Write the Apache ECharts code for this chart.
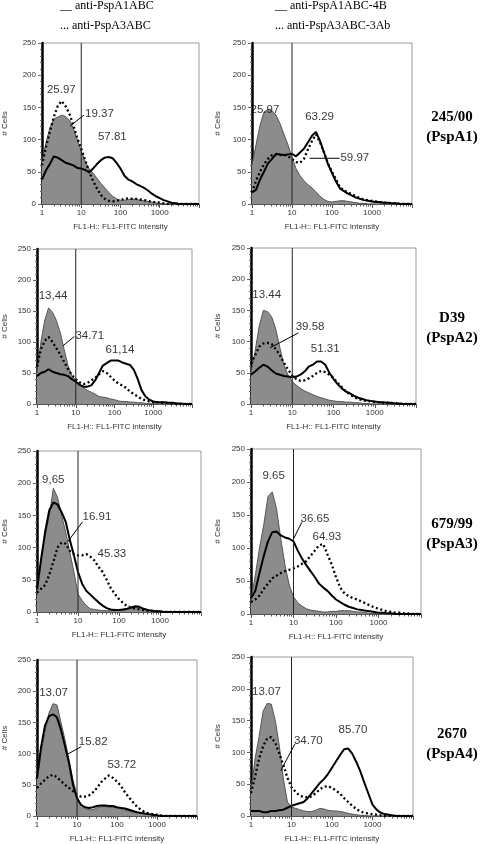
<!DOCTYPE html>
<html><head><meta charset="utf-8">
<script src="https://cdn.jsdelivr.net/npm/echarts@6/dist/echarts.min.js"></script>
<style>html,body{margin:0;padding:0;background:#fff}#c{width:480px;height:844px}</style>
</head><body><div id="c"></div>
<script>
// FL1 channel positions (1 .. 10^4, tenth-decade bins)
const channels = [1,1.259,1.585,1.995,2.512,3.162,3.981,5.012,6.31,7.943,10,12.59,15.85,19.95,25.12,31.62,39.81,50.12,63.1,79.43,100,125.9,158.5,199.5,251.2,316.2,398.1,501.2,631,794.3,1000,1259,1585,1995,2512,3162,3981,5012,6310,7943,10000];
const majorTicks = [1,10,100,1000,10000];
const tickLabels = [1,10,100,1000];
const minorTicks = [2,3,4,5,6,7,8,9,20,30,40,50,60,70,80,90,200,300,400,500,600,700,800,900,2000,3000,4000,5000,6000,7000,8000,9000];
const gateChannel = 10;
const yMax = 250;

// Panel 1: 245/00, anti-PspA1ABC (solid) / anti-PspA3ABC (dotted)
const p1Control = [65,95,118,132,135,138,136,130,117,100,82,66,55,48,40,32,25,18,12,8,6,6,7,8,7,6,5,4,3,2,1,0,0,0,0,0,0,0,0,0,0];
const p1Solid   = [38,52,62,74,72,68,64,62,60,56,55,53,49,55,62,68,72,73,71,64,55,44,38,35,31,28,25,21,16,12,9,6,4,2,1,0,0,0,0,0,0];
const p1Dotted  = [60,88,112,135,152,160,152,140,122,102,86,68,50,36,24,14,8,5,4,5,6,8,9,8,8,7,6,5,3,3,2,1,0,0,0,0,0,0,0,0,0];
// Panel 2: 245/00, anti-PspA1ABC-4B / anti-PspA3ABC-3Ab
const p2Control = [60,92,122,143,147,145,138,125,108,92,72,55,44,36,30,25,19,12,7,4,3,4,5,5,4,3,2,1,1,0,0,0,0,0,0,0,0,0,0,0,0];
const p2Solid   = [18,22,38,50,63,70,78,77,76,77,78,74,80,86,96,106,112,98,80,62,48,35,24,20,16,13,10,8,6,5,4,3,3,2,2,1,1,0,0,0,0];
const p2Dotted  = [18,36,50,62,70,76,77,76,76,74,70,65,64,70,85,98,108,96,80,63,50,38,26,21,18,15,12,9,7,6,5,4,3,2,2,1,1,0,0,0,0];
// Panel 3: D39 left
const p3Control = [50,100,135,155,148,135,115,88,62,46,38,32,26,22,19,16,12,11,10,8,7,5,4,4,3,3,2,2,1,1,1,0,0,0,0,0,0,0,0,0,0];
const p3Solid   = [45,50,52,56,52,50,48,47,45,40,36,31,28,28,30,38,50,62,66,70,70,70,67,65,63,55,40,22,12,7,4,3,3,3,2,2,1,1,0,0,0];
const p3Dotted  = [60,88,102,108,100,90,80,68,56,47,40,35,32,34,38,42,48,53,50,44,38,33,30,26,20,16,12,8,6,4,3,3,2,2,1,1,0,0,0,0,0];
// Panel 4: D39 right
const p4Control = [50,85,125,150,148,140,120,90,62,46,36,30,25,21,18,15,12,10,8,6,5,4,4,3,3,2,2,1,1,0,0,0,0,0,0,0,0,0,0,0,0];
const p4Solid   = [47,52,58,63,60,54,49,47,45,44,43,44,47,52,60,63,68,68,63,50,40,32,25,20,17,13,10,8,6,5,4,3,3,2,2,1,1,0,0,0,0];
const p4Dotted  = [65,78,92,97,98,96,88,78,66,55,46,40,37,38,41,45,50,53,51,47,42,34,27,20,15,11,8,6,5,4,3,3,2,2,1,1,0,0,0,0,0];
// Panel 5: 679/99 left
const p5Control = [25,80,118,150,192,178,150,124,93,62,28,18,10,5,4,3,2,2,2,2,3,3,4,6,8,7,5,3,2,1,1,0,0,0,0,0,0,0,0,0,0];
const p5Solid   = [36,82,125,158,170,167,155,140,112,88,62,44,33,27,21,15,10,6,4,3,3,4,5,7,9,8,5,3,2,1,1,0,0,0,0,0,0,0,0,0,0];
const p5Dotted  = [30,36,42,58,78,100,108,106,95,90,88,88,90,86,80,70,62,50,37,28,20,14,9,7,5,4,3,2,2,1,0,0,0,0,0,0,0,0,0,0,0];
// Panel 6: 679/99 right
const p6Control = [20,58,100,135,178,185,160,114,74,44,26,17,12,8,6,5,4,3,3,4,4,5,5,5,4,3,3,2,1,1,0,0,0,0,0,0,0,0,0,0,0];
const p6Solid   = [24,35,62,88,110,124,125,119,116,114,110,96,84,74,65,56,46,40,35,28,22,18,14,11,9,7,6,5,4,3,2,2,1,1,0,0,0,0,0,0,0];
const p6Dotted  = [18,22,28,38,46,54,58,62,65,67,69,72,76,80,88,96,104,106,90,75,56,40,31,27,24,22,19,16,13,10,8,6,4,3,2,2,1,1,0,0,0];
// Panel 7: 2670 left
const p7Control = [60,100,135,165,180,178,150,122,90,58,32,18,12,10,10,13,15,15,14,14,13,12,9,8,6,5,4,3,2,1,1,0,0,0,0,0,0,0,0,0,0];
const p7Solid   = [60,110,145,160,163,158,138,112,85,50,28,18,14,13,14,16,17,17,16,16,14,13,12,10,8,6,5,4,3,2,1,0,0,0,0,0,0,0,0,0,0];
const p7Dotted  = [45,52,58,64,66,62,56,50,45,40,34,31,31,33,38,45,54,60,65,61,55,48,38,30,22,15,10,6,4,3,2,1,0,0,0,0,0,0,0,0,0];
// Panel 8: 2670 right
const p8Control = [40,90,125,165,177,176,150,110,58,22,14,12,10,8,7,7,9,12,11,9,8,8,7,6,4,3,2,1,1,0,0,0,0,0,0,0,0,0,0,0,0];
const p8Solid   = [8,8,8,6,6,8,8,9,10,13,16,18,20,22,28,36,44,52,58,66,76,86,96,105,106,98,85,70,52,35,18,10,5,3,2,1,0,0,0,0,0];
const p8Dotted  = [36,62,90,110,122,124,115,98,80,60,45,38,32,30,29,31,36,42,46,47,44,40,35,28,22,16,11,7,5,4,3,2,1,0,0,0,0,0,0,0,0];

// Percentage annotations [channel, count, text] and leader lines
const p1Notes = [[3.1,178,'25.97'],[29,140,'19.37'],[62,104,'57.81']];
const p2Notes = [[2.1,146,'25.97'],[49,135,'63.29'],[372,71,'59.97']];
const p3Notes = [[2.6,175,'13,44'],[23,110,'34.71'],[138,87,'61,14']];
const p4Notes = [[2.4,175,'13.44'],[27,123,'39.58'],[63,88,'51.31']];
const p5Notes = [[2.5,206,'9,65'],[29,148,'16.91'],[67,91,'45.33']];
const p6Notes = [[3.4,209,'9.65'],[32,144,'36.65'],[61,117,'64.93']];
const p7Notes = [[2.6,198,'13.07'],[25.5,119,'15.82'],[132,82,'53.72']];
const p8Notes = [[2.4,195,'13.07'],[26,118,'34.70'],[330,136,'85.70']];
const p1Leader = [[11.7,138],[5.2,121]];
const p2Leader = [[155,71],[27.5,71]];
const p3Leader = [[9.2,109],[4.7,94]];
const p4Leader = [[14.1,114],[2.9,90]];
const p5Leader = [[12.9,140],[5.6,109]];
const p6Leader = [[15.7,139],[10,114]];
const p7Leader = [[12.6,111],[5.4,98]];
const p8Leader = [[12.1,113],[5.4,71]];

const headerLeft = ['__ anti-PspA1ABC','... anti-PspA3ABC'];
const headerRight = ['__ anti-PspA1ABC-4B','... anti-PspA3ABC-3Ab'];
const strainNames = ['245/00','D39','679/99','2670'];
const pspaNames = ['(PspA1)','(PspA2)','(PspA3)','(PspA4)'];
const xAxisTitle = 'FL1-H:: FL1-FITC intensity';
const yAxisTitle = '# Cells';

// Layout
const gridRects = [[38,43,161,161],[252,43,160,161],[33,249,159,155],[251,248,165,156],[33,451,168,161],[251,449,170,165],[33,660,164,159],[251,657,162,159]];
const yNameGaps = [33,30,28,29,28,29,28,29];
const rowLabelY = [117,318,524,734];

const panels = [
  [p1Control,p1Solid,p1Dotted,p1Notes,p1Leader],
  [p2Control,p2Solid,p2Dotted,p2Notes,p2Leader],
  [p3Control,p3Solid,p3Dotted,p3Notes,p3Leader],
  [p4Control,p4Solid,p4Dotted,p4Notes,p4Leader],
  [p5Control,p5Solid,p5Dotted,p5Notes,p5Leader],
  [p6Control,p6Solid,p6Dotted,p6Notes,p6Leader],
  [p7Control,p7Solid,p7Dotted,p7Notes,p7Leader],
  [p8Control,p8Solid,p8Dotted,p8Notes,p8Leader]
];

const SANS = 'Liberation Sans, Arial, sans-serif';
const SERIF = 'Liberation Serif, Times New Roman, serif';
const pts = arr => channels.map((c,k)=>[c,arr[k]]);

const grids=[], xAxes=[], yAxes=[], series=[];
panels.forEach((p,i)=>{
  const r = gridRects[i];
  grids.push({left:r[0],top:r[1],width:r[2],height:r[3],show:true,borderColor:'#9a9a9a',borderWidth:1});
  xAxes.push({type:'log',logBase:10,min:1,max:10000,gridIndex:i,position:'bottom',
    axisLine:{show:true,lineStyle:{color:'#555',width:1}},
    axisTick:{show:true,length:4,lineStyle:{color:'#555'},customValues:majorTicks},
    axisLabel:{show:true,fontSize:8,color:'#333',fontFamily:SANS,margin:5,customValues:tickLabels,
      formatter:v=>String(Math.round(v))},
    splitLine:{show:false},
    name:xAxisTitle,nameLocation:'middle',nameGap:19,nameTextStyle:{fontSize:8,color:'#333',fontFamily:SANS}});
  xAxes.push({type:'log',logBase:10,min:1,max:10000,gridIndex:i,position:'bottom',
    axisLine:{show:false},axisLabel:{show:false},splitLine:{show:false},
    axisTick:{show:true,length:2.5,lineStyle:{color:'#555'},customValues:minorTicks}});
  yAxes.push({type:'value',min:0,max:yMax,interval:50,gridIndex:i,
    axisLine:{show:true,lineStyle:{color:'#000',width:2.5}},
    axisTick:{show:true,length:4,lineStyle:{color:'#666'}},
    minorTick:{show:true,splitNumber:5,length:2,lineStyle:{color:'#666'}},
    splitLine:{show:false},
    axisLabel:{fontSize:8,color:'#333',fontFamily:SANS,margin:6},
    name:yAxisTitle,nameLocation:'middle',nameGap:yNameGaps[i],nameRotate:90,
    nameTextStyle:{fontSize:8,color:'#333',fontFamily:SANS}});
  const xi = 2*i;
  series.push({type:'line',xAxisIndex:xi,yAxisIndex:i,data:pts(p[0]),symbol:'none',silent:true,
    lineStyle:{color:'#555',width:1},areaStyle:{color:'#8c8c8c',opacity:1},z:2});
  series.push({type:'line',xAxisIndex:xi,yAxisIndex:i,data:pts(p[1]),symbol:'none',silent:true,
    lineStyle:{color:'#000',width:2},z:3});
  series.push({type:'line',xAxisIndex:xi,yAxisIndex:i,data:pts(p[2]),symbol:'none',silent:true,
    lineStyle:{color:'#000',width:2.3,type:[2,2.6]},z:4});
  series.push({type:'line',xAxisIndex:xi,yAxisIndex:i,data:[[gateChannel,0],[gateChannel,yMax]],symbol:'none',silent:true,
    lineStyle:{color:'#222',width:1},z:5});
  series.push({type:'line',xAxisIndex:xi,yAxisIndex:i,data:p[4],symbol:'none',silent:true,
    lineStyle:{color:'#000',width:1},z:6});
  series.push({type:'scatter',xAxisIndex:xi,yAxisIndex:i,silent:true,symbolSize:1,
    itemStyle:{color:'rgba(0,0,0,0)'},
    data:p[3].map(n=>({value:[n[0],n[1]],name:n[2]})),
    label:{show:true,position:'inside',formatter:'{b}',fontSize:11.5,color:'#000',fontFamily:SANS},z:7});
});

const graphics = [];
headerLeft.forEach((t,k)=>graphics.push({type:'text',x:60,y:6+k*20,style:{text:t,font:'12px '+SERIF,fill:'#000',align:'left',verticalAlign:'middle'}}));
headerRight.forEach((t,k)=>graphics.push({type:'text',x:275,y:6+k*20,style:{text:t,font:'12px '+SERIF,fill:'#000',align:'left',verticalAlign:'middle'}}));
strainNames.forEach((t,k)=>{
  graphics.push({type:'text',x:452,y:rowLabelY[k],style:{text:t,font:'bold 15px '+SERIF,fill:'#000',align:'center',verticalAlign:'middle'}});
  graphics.push({type:'text',x:452,y:rowLabelY[k]+20,style:{text:pspaNames[k],font:'bold 15px '+SERIF,fill:'#000',align:'center',verticalAlign:'middle'}});
});

const chart = echarts.init(document.getElementById('c'),null,{renderer:'canvas'});
chart.setOption({animation:false,backgroundColor:'#fff',grid:grids,xAxis:xAxes,yAxis:yAxes,series:series,graphic:graphics});
</script></body></html>
